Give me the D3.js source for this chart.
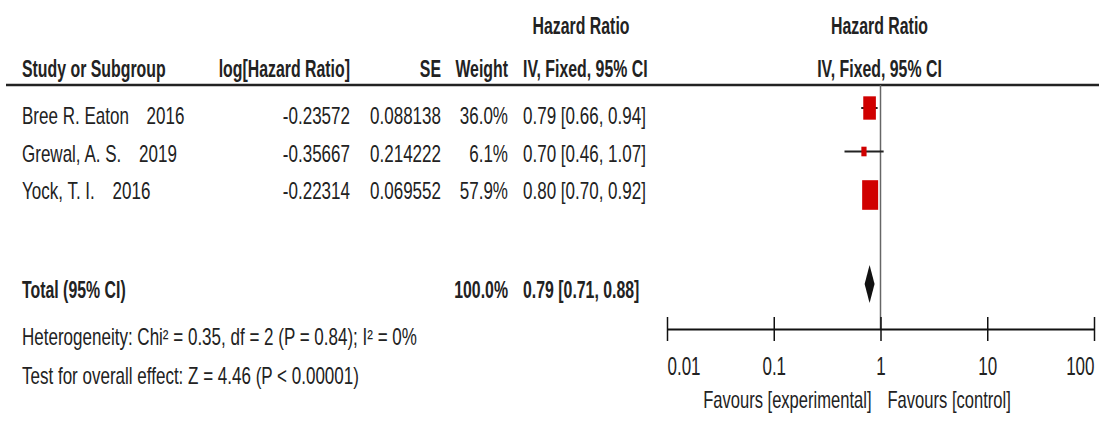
<!DOCTYPE html>
<html>
<head>
<meta charset="utf-8">
<script src="https://cdn.jsdelivr.net/npm/d3@7"></script>
<style>
  html, body { margin: 0; padding: 0; background: #fff; }
  svg { display: block; }
  text { font-family: "Liberation Sans", Arial, sans-serif; fill: #222; }
</style>
</head>
<body>
<svg id="chart" width="1099" height="422"></svg>
<script>
// Study-level data
const studies  = ["Bree R. Eaton", "Grewal, A. S.", "Yock, T. I."];
const years    = ["2016", "2019", "2016"];
const logHR    = [-0.23572, -0.35667, -0.22314];
const se       = [0.088138, 0.214222, 0.069552];
const weights  = [36.0, 6.1, 57.9];
const hr       = [0.79, 0.70, 0.80];
const ciLow    = [0.66, 0.46, 0.70];
const ciHigh   = [0.94, 1.07, 0.92];

// Pooled estimate
const totalWeight = 100.0;
const totalHR   = 0.79;
const totalLow  = 0.71;
const totalHigh = 0.88;

const heterogeneity = "Heterogeneity: Chi² = 0.35, df = 2 (P = 0.84); I² = 0%";
const overallEffect = "Test for overall effect: Z = 4.46 (P < 0.00001)";

// Axis
const tickValues = [0.01, 0.1, 1, 10, 100];
const tickLabels = ["0.01", "0.1", "1", "10", "100"];
const favours    = ["Favours [experimental]", "Favours [control]"];

const svg = d3.select("#chart");
const locale = d3.formatLocale({ decimal: ".", thousands: ",", grouping: [3], currency: ["", ""], minus: "-" });
const f2 = locale.format(".2f");
const ciText = (m, l, h) => `${f2(m)} [${f2(l)}, ${f2(h)}]`;

// Condensed text: regular glyphs squeezed horizontally
function label(x, y, str, { anchor = "start", bold = false, size = 23, sx } = {}) {
  const s = sx ?? (bold ? 0.69 : 0.74);
  return svg.append("text")
    .attr("transform", `translate(${x},${y}) scale(${s},1)`)
    .attr("text-anchor", anchor)
    .attr("font-size", size)
    .attr("font-weight", bold ? 700 : 400)
    .text(str);
}

// Scales
const x = d3.scaleLog().domain([0.01, 100]).range([667, 1094]);
const yText = d3.scaleLinear().domain([0, 2]).range([124, 199]);
const yMark = d3.scaleLinear().domain([0, 2]).range([108, 195]);
const boxW = d3.scaleSqrt().domain([0, 57.9]).range([0, 16]);
const boxAspect = 1.85;
const axisY = 329;
const headerLineY = 85;

// Column headers
label(581, 34, "Hazard Ratio", { anchor: "middle", bold: true });
label(x(1) - 1, 34, "Hazard Ratio", { anchor: "middle", bold: true });
label(22, 77, "Study or Subgroup", { bold: true });
label(350, 77, "log[Hazard Ratio]", { anchor: "end", bold: true });
label(441, 77, "SE", { anchor: "end", bold: true });
label(508, 77, "Weight", { anchor: "end", bold: true });
label(523, 77, "IV, Fixed, 95% CI", { bold: true });
label(x(1) - 1, 77, "IV, Fixed, 95% CI", { anchor: "middle", bold: true });

svg.append("line")
  .attr("x1", 6).attr("x2", 1099)
  .attr("y1", headerLineY).attr("y2", headerLineY)
  .attr("stroke", "#222").attr("stroke-width", 2.5);

// Study rows
studies.forEach((name, i) => {
  const y = yText(i);
  const t = label(22, y, name);
  t.append("tspan").attr("dx", 24).text(years[i]);
  label(350, y, locale.format(".5f")(logHR[i]), { anchor: "end" });
  label(441, y, locale.format(".6f")(se[i]), { anchor: "end" });
  label(508, y, locale.format(".1f")(weights[i]) + "%", { anchor: "end" });
  label(523, y, ciText(hr[i], ciLow[i], ciHigh[i]));
});

// Total row and footnotes
label(22, 298, "Total (95% CI)", { bold: true });
label(508, 298, locale.format(".1f")(totalWeight) + "%", { anchor: "end", bold: true });
label(523, 298, ciText(totalHR, totalLow, totalHigh), { bold: true });
label(22, 345, heterogeneity);
label(22, 384, overallEffect);

// Line of no effect
svg.append("line")
  .attr("x1", x(1)).attr("x2", x(1))
  .attr("y1", headerLineY).attr("y2", axisY)
  .attr("stroke", "#666").attr("stroke-width", 1.5);

// Confidence intervals
svg.append("g").selectAll("line")
  .data(studies.map((_, i) => i))
  .join("line")
  .attr("x1", i => x(ciLow[i])).attr("x2", i => x(ciHigh[i]))
  .attr("y1", i => yMark(i)).attr("y2", i => yMark(i))
  .attr("stroke", "#222").attr("stroke-width", 2);

// Weighted point estimates
svg.append("g").selectAll("rect")
  .data(studies.map((_, i) => i))
  .join("rect")
  .attr("x", i => x(hr[i]) - boxW(weights[i]) / 2)
  .attr("y", i => yMark(i) - boxW(weights[i]) * boxAspect / 2)
  .attr("width", i => boxW(weights[i]))
  .attr("height", i => boxW(weights[i]) * boxAspect)
  .attr("fill", "#d00000");

// Pooled diamond
const dy = 284, dh = 19;
svg.append("path")
  .attr("d", d3.line()([
    [x(totalLow), dy], [x(totalHR), dy - dh],
    [x(totalHigh), dy], [x(totalHR), dy + dh]
  ]) + "Z")
  .attr("fill", "#111");

// Log axis
const axis = d3.axisBottom(x)
  .tickValues(tickValues)
  .tickFormat((d, i) => tickLabels[i])
  .tickSizeInner(12).tickSizeOuter(0);
const ag = svg.append("g").attr("transform", `translate(0,${axisY})`).call(axis);
ag.select(".domain").attr("stroke", "#111").attr("stroke-width", 2);
ag.selectAll(".tick line")
  .attr("y1", -12).attr("y2", 12)
  .attr("stroke", "#111").attr("stroke-width", 1.5);
ag.selectAll(".tick text")
  .attr("y", null).attr("dy", null)
  .attr("font-size", 25)
  .attr("text-anchor", (d, i) => i === 0 ? "start" : i === tickValues.length - 1 ? "end" : "middle")
  .attr("transform", "translate(0,46) scale(0.68,1)");

label(x(1) - 9, 408, favours[0], { anchor: "end", size: 23, sx: 0.72 });
label(x(1) + 7, 408, favours[1], { size: 23, sx: 0.72 });
</script>
</body>
</html>
